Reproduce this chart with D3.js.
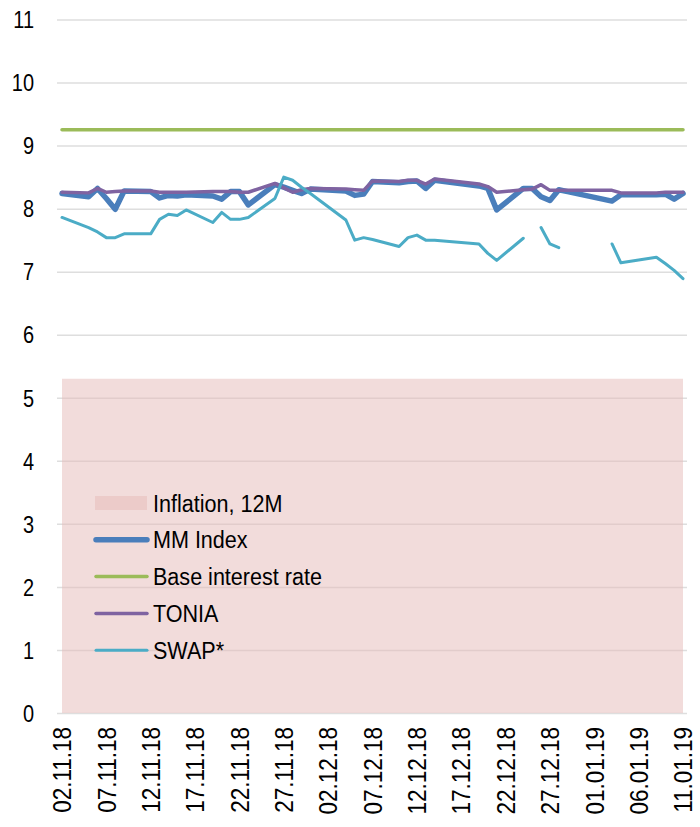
<!DOCTYPE html>
<html>
<head>
<meta charset="utf-8">
<script src="https://cdn.jsdelivr.net/npm/d3@7"></script>
<style>
  body { margin: 0; background: #fff; }
  svg { display: block; font-family: 'Liberation Sans', Arial, sans-serif; }
</style>
</head>
<body>
<div id="chart"></div>
<script>
// trading days (dd.mm.yy)
const dates = [
  '02.11.18', '05.11.18', '06.11.18', '07.11.18', '08.11.18', '09.11.18',
  '12.11.18', '13.11.18', '14.11.18', '15.11.18', '16.11.18',
  '19.11.18', '20.11.18', '21.11.18', '22.11.18', '23.11.18',
  '26.11.18', '27.11.18', '28.11.18', '29.11.18', '30.11.18',
  '04.12.18', '05.12.18', '06.12.18', '07.12.18',
  '10.12.18', '11.12.18', '12.12.18', '13.12.18', '14.12.18',
  '19.12.18', '20.12.18', '21.12.18',
  '24.12.18', '25.12.18', '26.12.18', '27.12.18', '28.12.18', '29.12.18',
  '03.01.19', '04.01.19', '08.01.19', '09.01.19', '10.01.19', '11.01.19',
];

const mmIndex = [
  8.24, 8.19, 8.32, 8.16, 7.99, 8.28,
  8.27, 8.17, 8.21, 8.20, 8.22,
  8.20, 8.15, 8.27, 8.27, 8.06,
  8.38, 8.34, 8.29, 8.24, 8.31,
  8.28, 8.21, 8.23, 8.43,
  8.41, 8.43, 8.44, 8.32, 8.45,
  8.36, 8.32, 7.98,
  8.32, 8.32, 8.19, 8.13, 8.30, 8.27,
  8.12, 8.22, 8.22, 8.23, 8.15, 8.24,
];

const tonia = [
  8.26, 8.25, 8.32, 8.26, 8.27, 8.28,
  8.28, 8.26, 8.26, 8.26, 8.26,
  8.27, 8.27, 8.27, 8.26, 8.26,
  8.40, 8.33, 8.26, 8.30, 8.32,
  8.31, 8.30, 8.29, 8.44,
  8.43, 8.45, 8.45, 8.39, 8.47,
  8.39, 8.35, 8.26,
  8.30, 8.31, 8.38, 8.29, 8.29, 8.29,
  8.29, 8.25, 8.25, 8.26, 8.26, 8.26,
];

const swap = [
  7.86, 7.70, 7.63, 7.54, 7.54, 7.60,
  7.60, 7.83, 7.91, 7.89, 7.98,
  7.78, 7.94, 7.83, 7.83, 7.86,
  8.16, 8.50, 8.45, 8.34, 8.24,
  7.82, 7.50, 7.54, 7.51,
  7.40, 7.54, 7.58, 7.50, 7.50,
  7.44, 7.29, 7.18,
  7.53, null, 7.70, 7.44, 7.38, null,
  7.44, 7.14, 7.23, 7.13, 7.02, 6.89,
];

const baseRate = 9.25;
const inflation12m = 5.3;

const yTicks = [0, 1, 2, 3, 4, 5, 6, 7, 8, 9, 10, 11];
const xTickLabels = [
  '02.11.18', '07.11.18', '12.11.18', '17.11.18', '22.11.18', '27.11.18', '02.12.18',
  '07.12.18', '12.12.18', '17.12.18', '22.12.18', '27.12.18', '01.01.19', '06.01.19', '11.01.19',
];
const seriesNames = ['Inflation, 12M', 'MM Index', 'Base interest rate', 'TONIA', 'SWAP*'];

const width = 700;
const height = 827;
const parseDate = d3.utcParse('%d.%m.%y');
const days = dates.map(parseDate);
const dateExtent = d3.extent(days);

const x = d3.scaleUtc().domain(dateExtent).range([62, 683]);
const y = d3.scaleLinear().domain([0, 11]).range([713, 19.5]);

const svg = d3.select('#chart')
  .append('svg')
  .attr('width', width)
  .attr('height', height);

// y grid + labels
const yAxis = svg.append('g')
  .attr('transform', 'translate(57,0)')
  .call(d3.axisLeft(y).tickValues(yTicks).tickSize(-630).tickFormat(d3.format('d')));
yAxis.select('.domain').remove();
yAxis.selectAll('.tick line')
  .attr('stroke', '#dedede')
  .attr('stroke-width', 1.5);
yAxis.selectAll('.tick text')
  .attr('fill', '#000')
  .attr('font-size', '23.5px')
  .attr('x', -27)
  .attr('dy', '0.35em')
  .attr('transform', 'scale(0.85,1)');

// inflation area
const area = d3.area()
  .x((d) => x(d))
  .y0(y(0))
  .y1(y(inflation12m));
svg.append('path')
  .datum(dateExtent)
  .attr('d', area)
  .attr('fill', '#e6b9b8')
  .attr('fill-opacity', 0.5);

// x labels
const xAxis = svg.append('g')
  .attr('transform', 'translate(0,713)')
  .call(d3.axisBottom(x).tickValues(xTickLabels.map(parseDate)).tickSize(0)
    .tickFormat(d3.utcFormat('%d.%m.%y')));
xAxis.select('.domain').remove();
xAxis.selectAll('.tick text')
  .attr('fill', '#000')
  .attr('font-size', '25px')
  .attr('text-anchor', 'end')
  .attr('x', -15.5)
  .attr('y', 0)
  .attr('dy', '0.35em')
  .attr('transform', 'rotate(-90) scale(0.9,1)');

const line = d3.line()
  .defined((d) => d[1] != null)
  .x((d) => x(d[0]))
  .y((d) => y(d[1]));

const series = [
  { values: mmIndex, color: '#4a7ebb', w: 5.5 },
  { values: null, color: '#9bbb59', w: 3.5 },
  { values: tonia, color: '#7f63a1', w: 3.5 },
  { values: swap, color: '#4bacc6', w: 3 },
];

series.forEach((s) => {
  const pts = s.values
    ? days.map((d, i) => [d, s.values[i]])
    : dateExtent.map((d) => [d, baseRate]);
  svg.append('path')
    .datum(pts)
    .attr('d', line)
    .attr('fill', 'none')
    .attr('stroke', s.color)
    .attr('stroke-width', s.w)
    .attr('stroke-linejoin', 'round')
    .attr('stroke-linecap', 'round');
});

// legend
const legend = svg.append('g').attr('transform', 'translate(95,503)');
seriesNames.forEach((name, i) => {
  const row = legend.append('g').attr('transform', `translate(0,${i * 36.8})`);
  if (i === 0) {
    row.append('rect')
      .attr('x', 0)
      .attr('y', -7)
      .attr('width', 52)
      .attr('height', 14)
      .attr('fill', '#e6b9b8')
      .attr('fill-opacity', 0.5);
  } else {
    const s = series[i - 1];
    row.append('line')
      .attr('x1', 1)
      .attr('x2', 52)
      .attr('stroke', s.color)
      .attr('stroke-width', s.w)
      .attr('stroke-linecap', 'round');
  }
  row.append('text')
    .attr('transform', 'translate(58,0) scale(0.88,1)')
    .attr('dy', '0.35em')
    .attr('font-size', '24.5px')
    .attr('fill', '#000')
    .text(name);
});
</script>
</body>
</html>
